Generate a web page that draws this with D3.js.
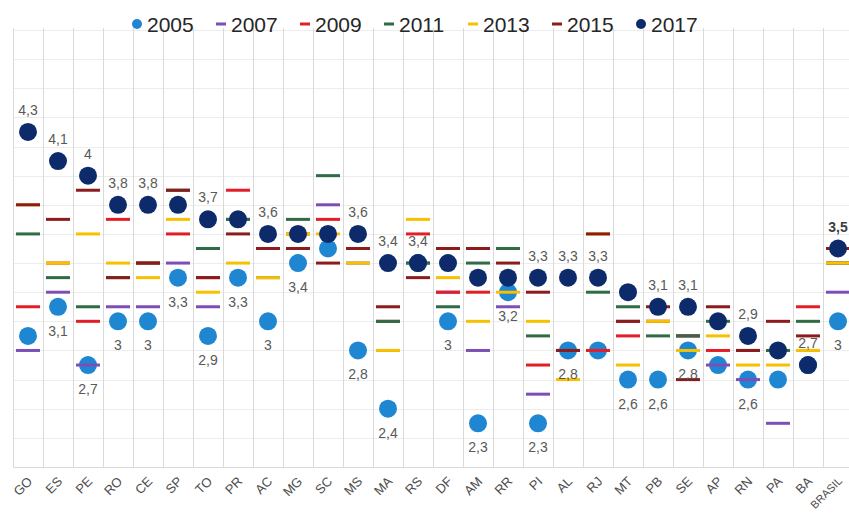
<!DOCTYPE html>
<html>
<head>
<meta charset="utf-8">
<script src="https://cdn.jsdelivr.net/npm/d3@7"></script>
<style>
  body { margin: 0; background: #fff; }
  svg { display: block; font-family: "Liberation Sans", Arial, sans-serif; }
</style>
</head>
<body>
<div id="chart"></div>
<script>
// IDEB ensino medio (rede estadual) por UF
const cats = ['GO', 'ES', 'PE', 'RO', 'CE', 'SP', 'TO', 'PR', 'AC', 'MG', 'SC', 'MS', 'MA', 'RS',
  'DF', 'AM', 'RR', 'PI', 'AL', 'RJ', 'MT', 'PB', 'SE', 'AP', 'RN', 'PA', 'BA', 'BRASIL']

const v2005 = [2.9, 3.1, 2.7, 3.0, 3.0, 3.3, 2.9, 3.3, 3.0, 3.4, 3.5, 2.8, 2.4, 3.4, 3.0, 2.3, 3.2, 2.3, 2.8, 2.8, 2.6, 2.6, 2.8, 2.7, 2.6, 2.6, 2.7, 3.0]
const v2007 = [2.8, 3.2, 2.7, 3.1, 3.1, 3.4, 3.1, 3.7, 3.5, 3.5, 3.8, 3.4, 2.8, 3.4, 3.2, 2.8, 3.1, 2.5, 2.8, 2.8, 3.0, 3.0, 2.9, 2.7, 2.6, 2.3, 2.8, 3.2]
const v2009 = [3.1, 3.4, 3.0, 3.7, 3.4, 3.6, 3.3, 3.9, 3.5, 3.6, 3.7, 3.5, 3.0, 3.6, 3.2, 3.2, 3.5, 2.7, 2.8, 2.8, 2.9, 3.0, 2.9, 2.8, 2.8, 2.8, 3.1, 3.4]
const v2011 = [3.6, 3.3, 3.1, 3.3, 3.4, 3.9, 3.5, 3.7, 3.3, 3.7, 4.0, 3.5, 3.0, 3.4, 3.1, 3.4, 3.5, 2.9, 2.8, 3.2, 3.1, 2.9, 2.9, 3.0, 2.8, 2.8, 3.0, 3.4]
const v2013 = [3.8, 3.4, 3.6, 3.4, 3.3, 3.7, 3.2, 3.4, 3.3, 3.6, 3.6, 3.4, 2.8, 3.7, 3.3, 3.0, 3.2, 3.0, 2.6, 3.6, 2.7, 3.0, 2.8, 2.9, 2.7, 2.7, 2.8, 3.4]
const v2015 = [3.8, 3.7, 3.9, 3.3, 3.4, 3.9, 3.3, 3.6, 3.5, 3.5, 3.4, 3.5, 3.1, 3.3, 3.5, 3.5, 3.4, 3.2, 2.8, 3.6, 3.0, 3.1, 2.6, 3.1, 2.8, 3.0, 2.9, 3.5]
const v2017 = [4.3, 4.1, 4.0, 3.8, 3.8, 3.8, 3.7, 3.7, 3.6, 3.6, 3.6, 3.6, 3.4, 3.4, 3.4, 3.3, 3.3, 3.3, 3.3, 3.3, 3.2, 3.1, 3.1, 3.0, 2.9, 2.8, 2.7, 3.5]

// which points carry a value label
const labels2005 = ['ES', 'PE', 'RO', 'CE', 'SP', 'TO', 'PR', 'AC', 'MG', 'MS', 'MA', 'DF', 'AM', 'RR',
  'PI', 'AL', 'MT', 'PB', 'SE', 'RN', 'BRASIL']
const labels2017 = ['GO', 'ES', 'PE', 'RO', 'CE', 'TO', 'AC', 'MS', 'MA', 'RS', 'PI', 'AL', 'RJ',
  'PB', 'SE', 'RN', 'BA', 'BRASIL']

const yTicks = [2.2, 2.4, 2.6, 2.8, 3.0, 3.2, 3.4, 3.6, 3.8, 4.0, 4.2, 4.4, 4.6, 4.8, 5.0]

const series = [
  {name: '2005', values: v2005, shape: 'circle', color: '#1f86d1'},
  {name: '2007', values: v2007, shape: 'dash', color: '#7d4fb6'},
  {name: '2009', values: v2009, shape: 'dash', color: '#e41e26'},
  {name: '2011', values: v2011, shape: 'dash', color: '#2f6b44'},
  {name: '2013', values: v2013, shape: 'dash', color: '#f7c100'},
  {name: '2015', values: v2015, shape: 'dash', color: '#8c1c1c'},
  {name: '2017', values: v2017, shape: 'circle', color: '#0d2b6b'}
]

const W = 849
const H = 515
const plot = {left: 13, right: 853, top: 30, bottom: 467}

const svg = d3.select('#chart')
  .append('svg')
  .attr('width', W)
  .attr('height', H)

const x = d3.scaleBand()
  .domain(cats)
  .range([plot.left, plot.right])
  .padding(0)

const y = d3.scaleLinear()
  .domain([2, 5])
  .range([plot.bottom, plot.top])

const fmt = v => String(+v.toFixed(1)).replace('.', ',')

// horizontal grid
svg.append('g')
  .selectAll('line')
  .data(yTicks)
  .join('line')
  .attr('x1', plot.left)
  .attr('x2', plot.right)
  .attr('y1', d => Math.round(y(d)) + 0.5)
  .attr('y2', d => Math.round(y(d)) + 0.5)
  .attr('stroke', '#ededed')

// vertical separators between categories
svg.append('g')
  .selectAll('line')
  .data(cats.concat(['end']))
  .join('line')
  .attr('x1', (d, i) => Math.round(plot.left + i * x.bandwidth()) + 0.5)
  .attr('x2', (d, i) => Math.round(plot.left + i * x.bandwidth()) + 0.5)
  .attr('y1', plot.top - 2)
  .attr('y2', plot.bottom)
  .attr('stroke', '#d9d9d9')

// x axis
const xAxis = svg.append('g')
  .attr('transform', `translate(0,${plot.bottom})`)
  .call(d3.axisBottom(x).tickSize(0))
xAxis.select('.domain').attr('stroke', '#d9d9d9')
xAxis.selectAll('text')
  .attr('x', 0)
  .attr('y', 0)
  .attr('dy', '0.35em')
  .attr('transform', 'translate(2,12) rotate(-45)')
  .attr('text-anchor', 'end')
  .attr('fill', '#4d4d4d')
  .style('font-size', d => d === 'BRASIL' ? '11px' : '13px')
  .style('font-family', '"Liberation Sans", Arial, sans-serif')

// marks, later years drawn on top
const cx = d => x(d.cat) + x.bandwidth() / 2
series.forEach(s => {
  const pts = cats.map((c, i) => ({cat: c, v: s.values[i]}))
  const g = svg.append('g')
  if (s.shape === 'circle') {
    g.selectAll('circle')
      .data(pts)
      .join('circle')
      .attr('cx', cx)
      .attr('cy', d => y(d.v))
      .attr('r', 9)
      .attr('fill', s.color)
  } else {
    g.selectAll('rect')
      .data(pts)
      .join('rect')
      .attr('x', d => cx(d) - 12)
      .attr('y', d => y(d.v) - 1.5)
      .attr('width', 24)
      .attr('height', 3)
      .attr('fill', s.color)
  }
})

// data labels
const lbl = svg.append('g')
  .style('font-size', '14px')
  .attr('fill', '#595959')
  .attr('text-anchor', 'middle')

lbl.selectAll('text.l05')
  .data(labels2005)
  .join('text')
  .attr('class', 'l05')
  .attr('x', c => x(c) + x.bandwidth() / 2)
  .attr('y', c => y(v2005[cats.indexOf(c)]) + 29)
  .text(c => fmt(v2005[cats.indexOf(c)]))

lbl.selectAll('text.l17')
  .data(labels2017)
  .join('text')
  .attr('class', 'l17')
  .attr('x', c => x(c) + x.bandwidth() / 2)
  .attr('y', c => y(v2017[cats.indexOf(c)]) - 17)
  .attr('font-weight', c => c === 'BRASIL' ? 'bold' : null)
  .attr('fill', c => c === 'BRASIL' ? '#404040' : null)
  .text(c => fmt(v2017[cats.indexOf(c)]))

// legend
const legend = svg.append('g')
  .selectAll('g')
  .data(series)
  .join('g')
  .attr('transform', (d, i) => `translate(${137 + i * 84},24)`)

legend.filter(d => d.shape === 'circle')
  .append('circle')
  .attr('r', 5)
  .attr('fill', d => d.color)
legend.filter(d => d.shape === 'dash')
  .append('rect')
  .attr('x', -5)
  .attr('y', -1.5)
  .attr('width', 10)
  .attr('height', 3)
  .attr('fill', d => d.color)
legend.append('text')
  .attr('x', 10)
  .attr('dy', '0.36em')
  .attr('fill', '#262626')
  .style('font-size', '21px')
  .text(d => d.name)
</script>
</body>
</html>
